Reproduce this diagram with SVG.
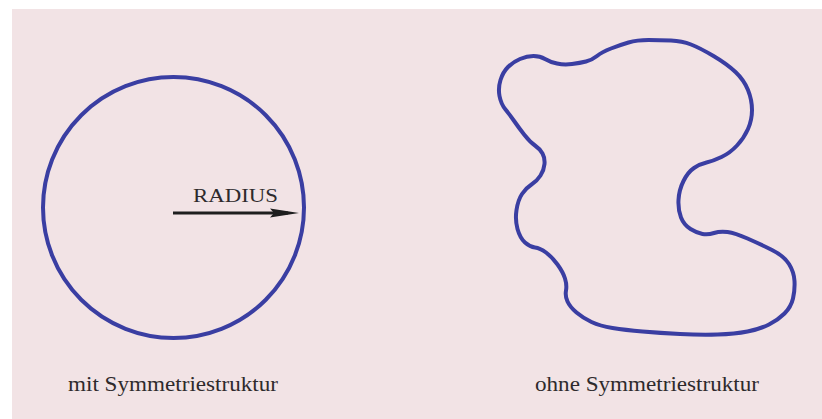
<svg xmlns="http://www.w3.org/2000/svg" width="822" height="419" viewBox="0 0 822 419">
<defs>
<style>
.shape{fill:none;stroke:#3a3ea2;stroke-width:4;stroke-linejoin:round}
.lbl{fill:#2e2a2c}
</style>
</defs>
<rect x="0" y="0" width="822" height="419" fill="#ffffff"/>
<rect x="12" y="9" width="810" height="410" fill="#f2e3e5"/>
<g id="circle-node">
<circle class="shape" cx="173.5" cy="207.5" r="130.5"/>
<text class="lbl" font-family="Liberation Serif, Times New Roman, serif" x="193" y="202" font-size="19" textLength="85" lengthAdjust="spacingAndGlyphs">RADIUS</text>
</g>
<g id="connectors">
<line x1="173" y1="213" x2="288" y2="213" stroke="#1e1e1e" stroke-width="2.8"/>
<path d="M270,208.5 L299,213 L270,217.5 L274,213 Z" fill="#1e1e1e"/>
</g>
<g id="blob-node">
<path class="shape" d="M628.5,42.5 Q637,40 648.5,40 Q660,40 671,40.5 Q682,41 691,44.5 Q700,48 713.5,56 Q727,64 735.5,72 Q744,80 748,90 Q752,100 752,110 Q752,120 748,129 Q744,138 737,145.5 Q730,153 721.5,157 Q713,161 706.5,162.5 Q700,164 694,168 Q688,172 683.5,181 Q679,190 678.5,200 Q678,210 681,217.5 Q684,225 690.5,229 Q697,233 702.5,234 Q708,235 714,233 Q720,231 727.5,232 Q735,233 747.5,238.5 Q760,244 772,250 Q784,256 789,264 Q794,272 794.5,281 Q795,290 793,298.5 Q791,307 784.5,313.5 Q778,320 769,324.5 Q760,329 747.5,331.5 Q735,334 717.5,334.5 Q700,335 680,334 Q660,333 642.5,331.5 Q625,330 612.5,328 Q600,326 591.5,322 Q583,318 576.5,312.5 Q570,307 567.5,301.5 Q565,296 566,290.5 Q567,285 565,278.5 Q563,272 557.5,264.5 Q552,257 546,252.5 Q540,248 535,247.5 Q530,247 525,242.5 Q520,238 517.5,229 Q515,220 516.5,210 Q518,200 522,194 Q526,188 531.5,184.5 Q537,181 540.5,175.5 Q544,170 544.5,164 Q545,158 542.5,153.5 Q540,149 535,145.5 Q530,142 524.5,135 Q519,128 514.5,121.5 Q510,115 505.5,109.5 Q501,104 499.5,96 Q498,88 500.5,80 Q503,72 508,67 Q513,62 520,59 Q527,56 533.5,56 Q540,56 545,59 Q550,62 557,63.5 Q564,65 572,64 Q580,63 586,61.5 Q592,60 597,56 Q602,52 611,48.5 Q620,45 628.5,42.5 Z"/>
</g>
<g id="labels">
<text class="lbl" font-family="Liberation Serif, Times New Roman, serif" x="68" y="391" font-size="22" textLength="210" lengthAdjust="spacingAndGlyphs">mit Symmetriestruktur</text>
<text class="lbl" font-family="Liberation Serif, Times New Roman, serif" x="535" y="391" font-size="22" textLength="224" lengthAdjust="spacingAndGlyphs">ohne Symmetriestruktur</text>
</g>
</svg>
